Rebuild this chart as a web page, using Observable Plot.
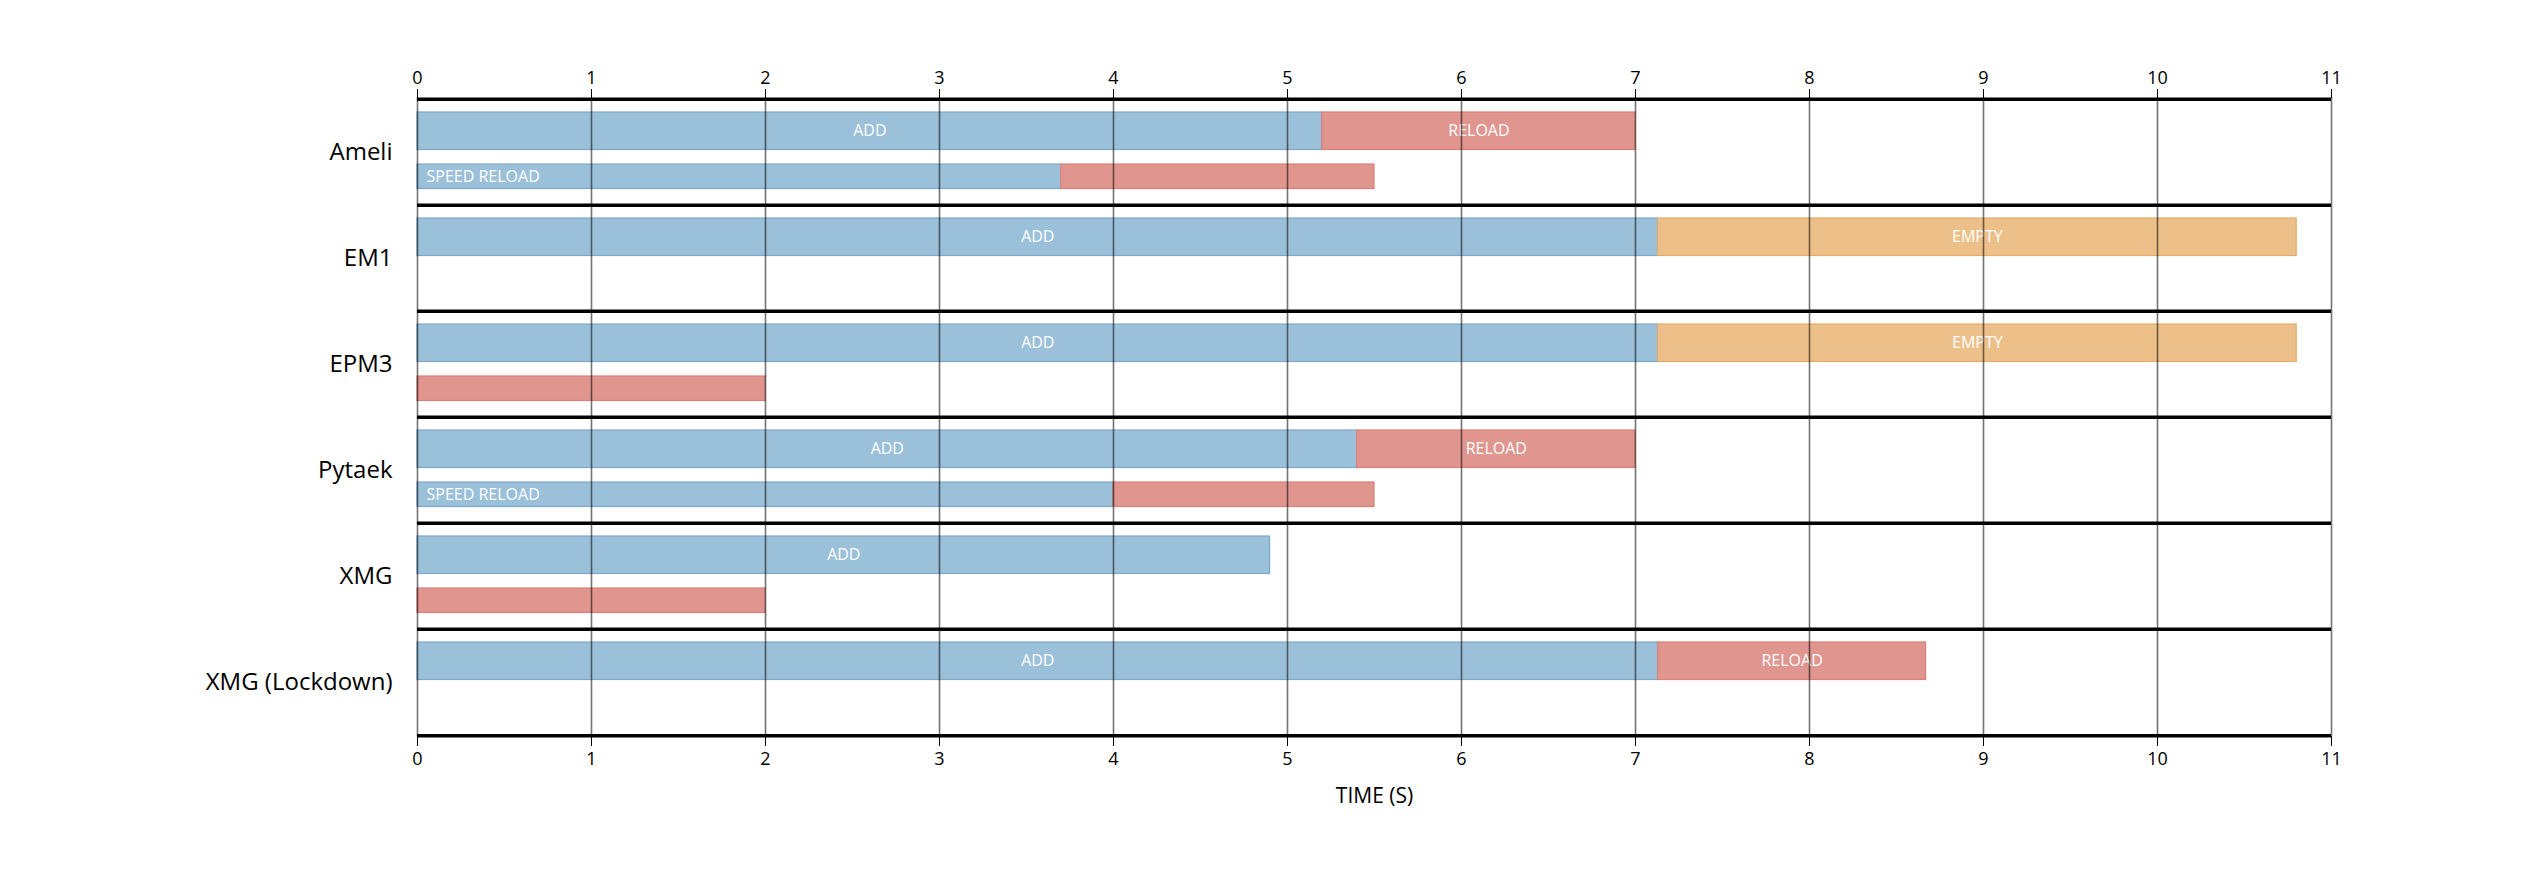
<!DOCTYPE html>
<html>
<head>
<meta charset="utf-8">
<script src="https://cdn.jsdelivr.net/npm/d3@7"></script>
<script src="https://cdn.jsdelivr.net/npm/@observablehq/plot@0.6"></script>
<style>
  html, body { margin: 0; padding: 0; background: #fff; }
</style>
</head>
<body>
<div id="chart"></div>
<script>
// ---- data ----
const groups = ["Ameli", "EM1", "EPM3", "Pytaek", "XMG", "XMG (Lockdown)"];
const xTicks = [0, 1, 2, 3, 4, 5, 6, 7, 8, 9, 10, 11];
const phases = ["ADD", "SPEED RELOAD", "RELOAD", "EMPTY"];
const phaseColors = ["#9bc0da", "#9bc0da", "#e0958f", "#edc089"];
const phaseStrokes = ["#7fa8c8", "#7fa8c8", "#da8079", "#e2ad6c"];

// first (upper) row of each group
const mainGroup = ["Ameli", "Ameli", "EM1", "EM1", "EPM3", "EPM3", "Pytaek", "Pytaek", "XMG", "XMG (Lockdown)", "XMG (Lockdown)"];
const mainPhase = ["ADD", "RELOAD", "ADD", "EMPTY", "ADD", "EMPTY", "ADD", "RELOAD", "ADD", "ADD", "RELOAD"];
const mainStart = [0, 5.2, 0, 7.13, 0, 7.13, 0, 5.4, 0, 0, 7.13];
const mainEnd   = [5.2, 7.0, 7.13, 10.8, 7.13, 10.8, 5.4, 7.0, 4.9, 7.13, 8.67];

// second (lower) row of each group
const subGroup = ["Ameli", "Ameli", "EPM3", "Pytaek", "Pytaek", "XMG"];
const subPhase = ["SPEED RELOAD", "RELOAD", "RELOAD", "SPEED RELOAD", "RELOAD", "RELOAD"];
const subStart = [0, 3.7, 0, 0, 4.0, 0];
const subEnd   = [3.7, 5.5, 2.0, 4.0, 5.5, 2.0];
const subLabel = ["SPEED RELOAD", "", "", "SPEED RELOAD", "", ""];

const xLabel = "TIME (S)";

// ---- tables built from arrays ----
const mainRows = mainGroup.map((g, i) => ({group: g, phase: mainPhase[i], start: mainStart[i], end: mainEnd[i]}));
const subRows = subGroup.map((g, i) => ({group: g, phase: subPhase[i], start: subStart[i], end: subEnd[i], label: subLabel[i]}));

// ---- layout ----
const W = 2546, H = 873;
const mT = 97, mB = 137, mL = 417, mR = 215;
const bw = (H - mT - mB) / groups.length;
const strokeOf = p => phaseStrokes[phases.indexOf(p)];

const chart = Plot.plot({
  width: W,
  height: H,
  marginTop: mT,
  marginBottom: mB,
  marginLeft: mL,
  marginRight: mR,
  style: {fontFamily: "'Open Sans', 'Noto Sans', sans-serif", background: "#fff", color: "#000"},
  x: {domain: [0, 11]},
  y: {domain: groups, padding: 0},
  color: {domain: phases, range: phaseColors},
  marks: [
    Plot.barX(mainRows, {
      y: "group", x1: "start", x2: "end", fill: "phase",
      stroke: d => strokeOf(d.phase), strokeWidth: 1.2,
      insetTop: 13, insetBottom: bw - 51
    }),
    Plot.barX(subRows, {
      y: "group", x1: "start", x2: "end", fill: "phase",
      stroke: d => strokeOf(d.phase), strokeWidth: 1.2,
      insetTop: 65, insetBottom: bw - 90
    }),
    Plot.text(mainRows, {
      y: "group", x: d => (d.start + d.end) / 2, text: "phase",
      fill: "white", fontSize: 16, dy: 32 - bw / 2
    }),
    Plot.text(subRows, {
      y: "group", x: "start", text: "label",
      fill: "white", fontSize: 16, textAnchor: "start", dx: 9, dy: 77.5 - bw / 2
    }),
    Plot.ruleX(xTicks, {stroke: "#000", strokeOpacity: 0.55, strokeWidth: 1.6}),
    Plot.ruleY(groups, {stroke: "#000", strokeWidth: 3.5, dy: -bw / 2}),
    Plot.ruleY([groups[groups.length - 1]], {stroke: "#000", strokeWidth: 3.5, dy: bw / 2}),
    Plot.axisX({anchor: "top", ticks: xTicks, tickSize: 9, tickPadding: 5, fontSize: 18, label: null, tickFormat: d => String(d)}),
    Plot.axisX({anchor: "bottom", ticks: xTicks, tickSize: 10, tickPadding: 6, fontSize: 18, label: null, tickFormat: d => String(d)}),
    Plot.axisY({tickSize: 0, tickPadding: 25, fontSize: 24, label: null}),
    Plot.text([xLabel], {frameAnchor: "bottom", dy: 66, fontSize: 21, fill: "#000"})
  ]
});

document.getElementById("chart").appendChild(chart);
</script>
</body>
</html>
